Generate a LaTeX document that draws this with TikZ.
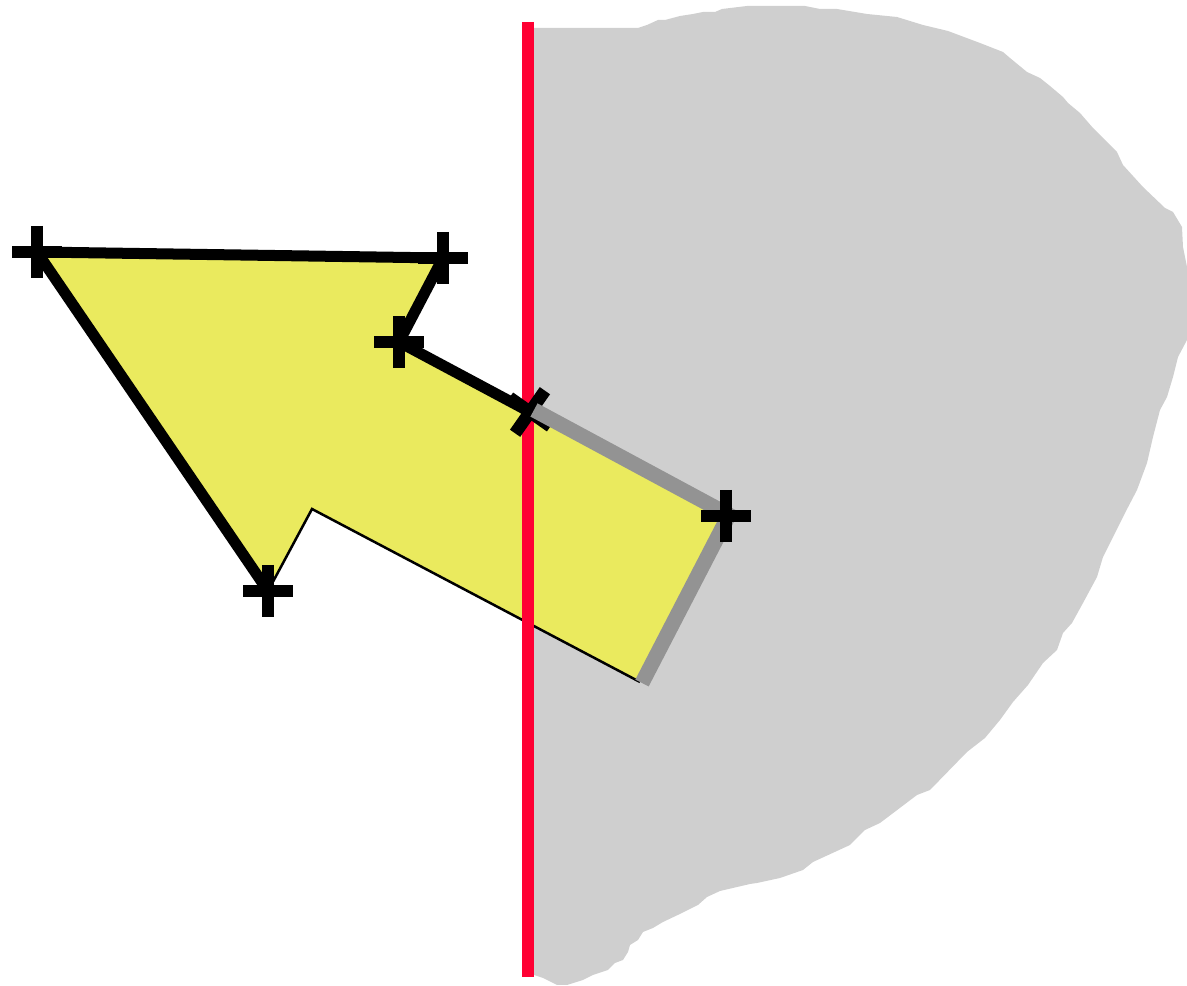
\documentclass[tikz,border=0pt]{standalone}
\usepackage{tikz}
\usetikzlibrary{calc}
\definecolor{blobgray}{RGB}{207,207,207}
\definecolor{edgegray}{RGB}{147,147,147}
\definecolor{polyyellow}{RGB}{234,234,94}
\definecolor{cutred}{RGB}{255,0,51}
\tikzset{
  blob/.style={fill=blobgray},
  polyfill/.style={fill=polyyellow},
  keptedge/.style={draw=black, line width=0.11cm, line join=miter},
  thinedge/.style={draw=black, line width=0.025cm},
  clipedge/.style={draw=edgegray, line width=0.15cm, line join=miter},
  cutline/.style={draw=cutred, line width=0.11cm},
  crossarm/.style={draw=black, line width=0.125cm, line cap=butt},
  vcross/.pic={
    \draw[crossarm] (-25,0) -- (25,0) (0,-26) -- (0,26);
  }
}

\begin{document}
\begin{tikzpicture}[x=0.01cm, y=-0.01cm]
  \useasboundingbox (0,0) rectangle (1187,986);

  \coordinate (a) at (37,252);
  \coordinate (b) at (443,258);
  \coordinate (c) at (399,342);
  \coordinate (d) at (530,412);
  \coordinate (e) at (726,516);
  \coordinate (f) at (640,682);
  \coordinate (g) at (312,509);
  \coordinate (h) at (268,591);
  \coordinate (top) at (528,22);
  \coordinate (bot) at (528,977);

  \fill[blob] (533,28) -- (638,28) -- (647,25) -- (658,20) -- (665,20) -- (680,16)
    -- (693,14) -- (703,12) -- (715,12) -- (722,9) -- (747,6) -- (805,6) -- (820,9)
    -- (837,9) -- (867,14) -- (897,17) -- (923,25) -- (948,31) -- (980,43)
    -- (1003,52) -- (1010,58) -- (1027,72) -- (1040,78) -- (1050,86) -- (1063,97)
    -- (1068,103) -- (1080,113) -- (1093,128) -- (1117,152) -- (1123,165)
    -- (1143,187) -- (1165,208) -- (1173,212) -- (1182,227) -- (1183,247)
    -- (1187,267) -- (1187,340) -- (1178,357) -- (1173,377) -- (1167,397)
    -- (1160,410) -- (1153,437) -- (1147,463) -- (1137,490) -- (1125,513)
    -- (1113,537) -- (1103,557) -- (1097,577) -- (1083,603) -- (1072,623)
    -- (1063,633) -- (1057,650) -- (1043,663) -- (1028,685) -- (1013,702)
    -- (1000,720) -- (985,738) -- (967,752) -- (930,790) -- (917,795) -- (880,823)
    -- (865,830) -- (850,845) -- (813,862) -- (803,870) -- (780,878) -- (757,883)
    -- (750,884) -- (720,891) -- (707,897) -- (698,905) -- (682,913) -- (663,922)
    -- (653,928) -- (643,932) -- (638,940) -- (630,945) -- (628,952) -- (623,960)
    -- (615,963) -- (608,970) -- (593,975) -- (583,980) -- (567,985) -- (557,985)
    -- (543,978) -- (534,975) -- cycle;

  \fill[polyfill] (a) -- (b) -- (c) -- (d) -- (e) -- (f) -- (g) -- (h) -- cycle;

  \draw[keptedge] (h) -- (a) -- (b) -- (c) -- (d);
  \draw[thinedge] (h) -- (g) -- (f);

  \draw[cutline] (top) -- (bot);

  \pic[rotate=-35] at (d) {vcross};
  \draw[clipedge] ($(d)+(4,-2)$) -- ($(e)+(3,-1)$) -- ($(f)+(2,1)$);

  \pic at (a) {vcross};
  \pic at (b) {vcross};
  \pic at (c) {vcross};
  \pic at (e) {vcross};
  \pic at (h) {vcross};
\end{tikzpicture}
\end{document}
